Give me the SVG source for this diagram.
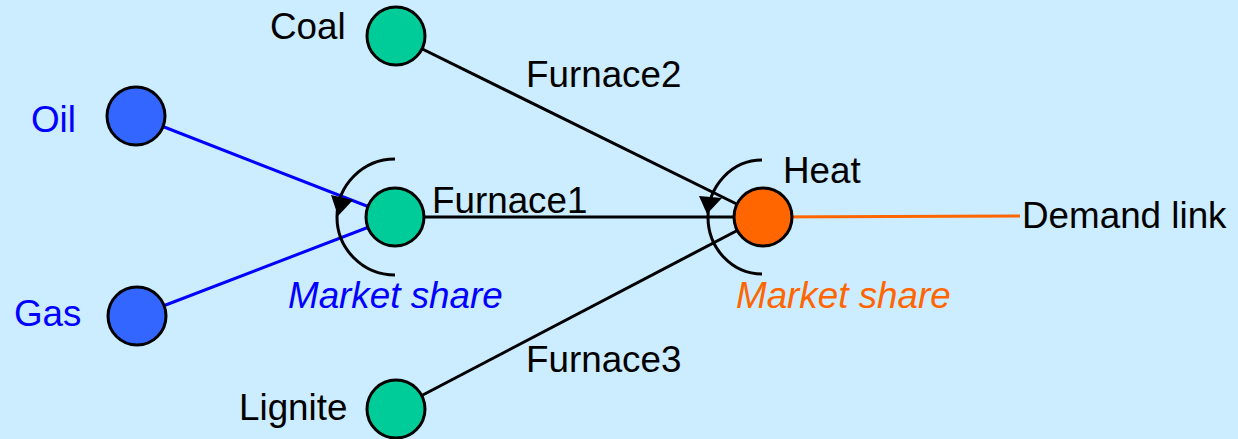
<svg xmlns="http://www.w3.org/2000/svg" width="1238" height="439" viewBox="0 0 1238 439">
<style>
.t{font-family:"Liberation Sans",Arial,sans-serif;font-size:36.8px;fill:#000}
.b{fill:#0000FF}
.o{fill:#FF6600}
.i{font-style:italic}
.n{stroke:#000;stroke-width:3}
.g{fill:#00CC99}
.bl{fill:#3366FF}
.or{fill:#FF6600}
.l{stroke-width:3;fill:none}
</style>
<rect width="1238" height="439" fill="#CCECFF"/>
<g id="connectors">
<line class="l" x1="136" y1="116" x2="395" y2="217" stroke="#0000FF"/>
<line class="l" x1="137" y1="316" x2="395" y2="217" stroke="#0000FF"/>
<line class="l" x1="396" y1="36" x2="763" y2="217" stroke="#000"/>
<line class="l" x1="395" y1="217" x2="763" y2="217" stroke="#000"/>
<line class="l" x1="396" y1="409" x2="763" y2="217" stroke="#000"/>
<line class="l" x1="763" y1="217" x2="1020" y2="216" stroke="#FF6600"/>
<path class="l" d="M395,159 A58,58 0 0 0 395,275" stroke="#000"/>
<polygon points="331,195 353,200 338,216" fill="#000"/>
<path class="l" d="M762,160 A54,57 0 0 0 762,274" stroke="#000"/>
<polygon points="699,196 722,198 707,214" fill="#000"/>
</g>
<g id="oil"><circle class="n bl" cx="136" cy="116" r="29"/><text class="t b" x="31" y="132">Oil</text></g>
<g id="gas"><circle class="n bl" cx="137" cy="316" r="29"/><text class="t b" x="14" y="326">Gas</text></g>
<g id="coal"><circle class="n g" cx="396" cy="36" r="29"/><text class="t" x="270" y="39">Coal</text></g>
<g id="lignite"><circle class="n g" cx="396" cy="409" r="29"/><text class="t" x="239" y="420">Lignite</text></g>
<g id="furnace1"><circle class="n g" cx="395" cy="217" r="29"/><text class="t" x="432" y="213">Furnace1</text><text class="t b i" x="288" y="308">Market share</text></g>
<g id="heat"><circle class="n or" cx="763" cy="217" r="29"/><text class="t" x="783" y="183">Heat</text><text class="t o i" x="736" y="308">Market share</text></g>
<g id="demand"><text class="t" x="1022" y="228">Demand link</text></g>
<g id="labels"><text class="t" x="526" y="87">Furnace2</text><text class="t" x="526" y="372">Furnace3</text></g>
</svg>
